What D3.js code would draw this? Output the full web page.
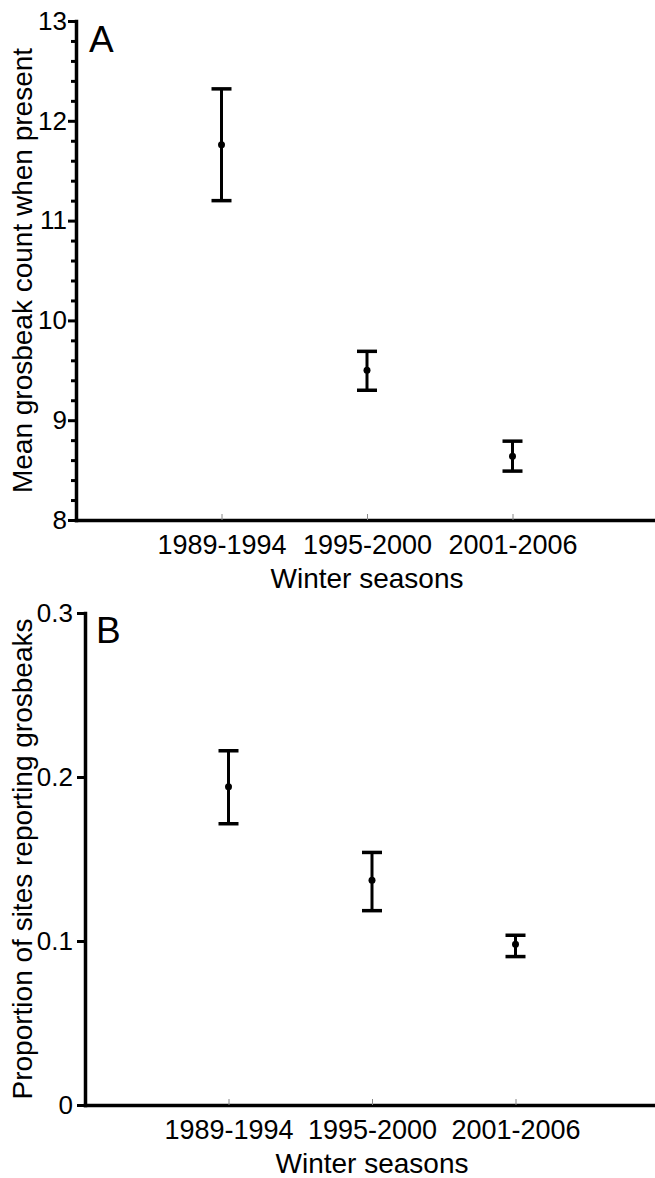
<!DOCTYPE html>
<html>
<head>
<meta charset="utf-8">
<script src="https://d3js.org/d3.v7.min.js"></script>
<style>
  body { margin: 0; background: #fff; }
  text { font-family: "Liberation Sans", Arial, sans-serif; fill: #000; }
</style>
</head>
<body>
<div id="chart"></div>
<script>
// data
var seasons = ["1989-1994", "1995-2000", "2001-2006"];

// panel A - mean count when present
var countMean = [11.76, 9.50, 8.64];
var countLow = [11.20, 9.30, 8.49];
var countHigh = [12.32, 9.69, 8.79];
var countTicks = [8, 9, 10, 11, 12, 13];
var countMinor = [8.2, 8.4, 8.6, 8.8, 9.2, 9.4, 9.6, 9.8, 10.2, 10.4, 10.6, 10.8,
  11.2, 11.4, 11.6, 11.8, 12.2, 12.4, 12.6, 12.8];

// panel B - proportion of sites
var propMean = [0.194, 0.137, 0.098];
var propLow = [0.1715, 0.1185, 0.0905];
var propHigh = [0.216, 0.154, 0.1035];
var propTicks = [0, 0.1, 0.2, 0.3];

var svgWidth = 655;
var svgHeight = 1178;

var svg = d3.select("#chart")
  .append("svg")
  .attr("width", svgWidth)
  .attr("height", svgHeight);

function drawPanel(opts) {
  var x = d3.scalePoint()
    .domain(seasons)
    .range([opts.left, opts.right])
    .padding(1);

  var y = d3.scaleLinear()
    .domain(opts.domain)
    .range([opts.bottom, opts.top]);

  var g = svg.append("g");

  // minor ticks (only panel A has them)
  if (opts.minor) {
    g.append("g")
      .attr("transform", `translate(${opts.left}, 0)`)
      .call(d3.axisLeft(y).tickValues(opts.minor).tickSize(5).tickSizeOuter(0).tickFormat(""))
      .call(a => a.select(".domain").remove())
      .call(a => a.selectAll(".tick line").attr("stroke", "#000").attr("stroke-width", 3));
  }

  // y axis
  g.append("g")
    .attr("transform", `translate(${opts.left}, 0)`)
    .call(d3.axisLeft(y).tickValues(opts.ticks).tickSize(8).tickSizeOuter(0)
      .tickPadding(opts.tickPad).tickFormat(d => d))
    .call(a => a.select(".domain").attr("stroke", "#000").attr("stroke-width", 3.5).attr("stroke-linecap", "square"))
    .call(a => a.selectAll(".tick line").attr("stroke", "#000").attr("stroke-width", 3))
    .call(a => a.selectAll(".tick text")
      .attr("font-size", "26px")
      .attr("font-family", "Liberation Sans, Arial, sans-serif")
      .attr("fill", "#000"));

  // x axis, small grey ticks pointing up
  g.append("g")
    .attr("transform", `translate(0, ${opts.bottom})`)
    .call(d3.axisBottom(x).tickSize(-6).tickSizeOuter(0).tickPadding(15))
    .call(a => a.select(".domain").attr("stroke", "#000").attr("stroke-width", 3.5).attr("stroke-linecap", "square"))
    .call(a => a.selectAll(".tick line").attr("stroke", "#888").attr("stroke-width", 1))
    .call(a => a.selectAll(".tick text")
      .attr("font-size", "27px")
      .attr("font-family", "Liberation Sans, Arial, sans-serif")
      .attr("fill", "#000"));

  // error bars
  var capW = 10;
  var bars = g.selectAll(".bar")
    .data(seasons)
    .enter()
    .append("g")
    .attr("class", "bar");

  bars.append("line")
    .attr("x1", d => x(d))
    .attr("x2", d => x(d))
    .attr("y1", (d, i) => y(opts.low[i]))
    .attr("y2", (d, i) => y(opts.high[i]))
    .attr("stroke", "#000")
    .attr("stroke-width", 3);

  bars.append("line")
    .attr("x1", d => x(d) - capW)
    .attr("x2", d => x(d) + capW)
    .attr("y1", (d, i) => y(opts.high[i]))
    .attr("y2", (d, i) => y(opts.high[i]))
    .attr("stroke", "#000")
    .attr("stroke-width", 3.5);

  bars.append("line")
    .attr("x1", d => x(d) - capW)
    .attr("x2", d => x(d) + capW)
    .attr("y1", (d, i) => y(opts.low[i]))
    .attr("y2", (d, i) => y(opts.low[i]))
    .attr("stroke", "#000")
    .attr("stroke-width", 3.5);

  bars.append("circle")
    .attr("cx", d => x(d))
    .attr("cy", (d, i) => y(opts.mean[i]))
    .attr("r", 3.5)
    .attr("fill", "#000");

  // axis titles
  g.append("text")
    .attr("x", x(seasons[1]))
    .attr("y", opts.bottom + 68)
    .attr("text-anchor", "middle")
    .attr("font-size", "28px")
    .text("Winter seasons");

  g.append("text")
    .attr("transform", `translate(32, ${(opts.top + opts.bottom) / 2}) rotate(-90)`)
    .attr("text-anchor", "middle")
    .attr("font-size", "28px")
    .text(opts.ylabel);

  // panel letter
  g.append("text")
    .attr("x", opts.letterX)
    .attr("y", opts.letterY)
    .attr("font-size", "37px")
    .text(opts.letter);
}

drawPanel({
  left: 76, right: 658, top: 21, bottom: 520,
  domain: [8, 13], ticks: countTicks, minor: countMinor, tickPad: 1,
  mean: countMean, low: countLow, high: countHigh,
  ylabel: "Mean grosbeak count when present",
  letter: "A", letterX: 89, letterY: 52
});

drawPanel({
  left: 85, right: 659, top: 613, bottom: 1105,
  domain: [0, 0.3], ticks: propTicks, minor: null, tickPad: 4,
  mean: propMean, low: propLow, high: propHigh,
  ylabel: "Proportion of sites reporting grosbeaks",
  letter: "B", letterX: 96, letterY: 643
});
</script>
</body>
</html>
